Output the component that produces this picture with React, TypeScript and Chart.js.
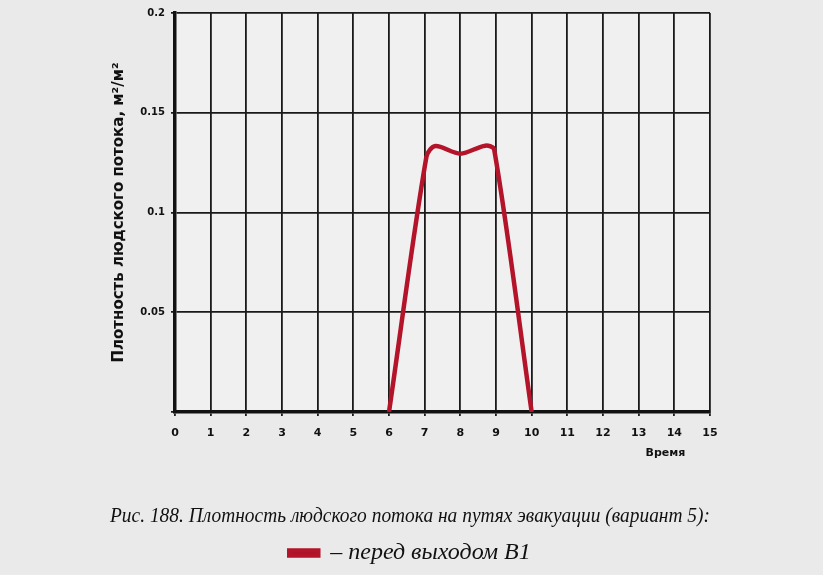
import React, { useEffect, useRef } from "react";
import { Chart, registerables } from "chart.js";

Chart.register(...registerables);

const timeValues = [6, 7.05, 7.3, 8, 8.7, 8.95, 10];
const densityValues = [0, 0.128, 0.1333, 0.1295, 0.1335, 0.1315, 0];
const xTickValues = [0, 1, 2, 3, 4, 5, 6, 7, 8, 9, 10, 11, 12, 13, 14, 15];
const yTickLabels: Record<string, string> = { "0.05": "0.05", "0.1": "0.1", "0.15": "0.15", "0.2": "0.2" };
const seriesLabel = "– перед выходом В1";
const caption = "Рис. 188. Плотность людского потока на путях эвакуации (вариант 5):";
const yTitle = "Плотность людского потока, м²/м²";
const xTitle = "Время";

const bgPlugin = {
  id: "bg",
  beforeDraw(chart: any) {
    const ctx = chart.ctx;
    ctx.save();
    ctx.fillStyle = "#eaeaea";
    ctx.fillRect(0, 0, chart.width, chart.height);
    const a = chart.chartArea;
    ctx.fillStyle = "#f0f0f0";
    ctx.fillRect(a.left, a.top, a.right - a.left, a.bottom - a.top);
    ctx.restore();
  },
};

const xTitlePlugin = {
  id: "xTitleText",
  afterDraw(chart: any) {
    const ctx = chart.ctx;
    const x = chart.scales.x;
    ctx.save();
    ctx.fillStyle = "#111";
    ctx.font = "bold 11px 'DejaVu Sans', sans-serif";
    ctx.textAlign = "center";
    ctx.textBaseline = "middle";
    ctx.fillText(xTitle, x.getPixelForValue(13.75), chart.chartArea.bottom + 41);
    ctx.restore();
  },
};

export default function App() {
  const ref = useRef<HTMLCanvasElement>(null);
  useEffect(() => {
    document.body.style.margin = "0";
    const data = timeValues.map((t, i) => ({ x: t, y: densityValues[i] }));
    const chart = new Chart(ref.current!, {
      type: "line",
      data: {
        datasets: [
          {
            label: seriesLabel,
            data,
            borderColor: "#b3142a",
            backgroundColor: "#9c1226",
            borderWidth: 4.5,
            pointRadius: 0,
            tension: 0.3,
          },
        ],
      },
      options: {
        animation: false,
        responsive: false,
        layout: { padding: { left: 110, right: 113, top: 13, bottom: 0 } },
        plugins: {
          tooltip: { enabled: false },
          title: {
            display: true,
            position: "bottom",
            weight: 500,
            text: caption,
            color: "#111",
            font: { family: "'Liberation Serif', 'Times New Roman', serif", size: 20, style: "italic", weight: "normal" },
            padding: { top: 33, bottom: 4 },
          },
          legend: {
            display: true,
            position: "bottom",
            weight: 1000,
            labels: {
              boxWidth: 29,
              boxHeight: 5,
              color: "#111",
              font: { family: "'Liberation Serif', 'Times New Roman', serif", size: 24, style: "italic" },
              padding: 8,
            },
          },
        } as any,
        scales: {
          x: {
            type: "linear",
            min: 0,
            max: 15,
            afterBuildTicks: (s: any) => {
              s.ticks = xTickValues.map((v) => ({ value: v }));
            },
            ticks: {
              color: "#111",
              font: { family: "'DejaVu Sans', sans-serif", size: 11, weight: "bold" },
              padding: 11,
              maxRotation: 0,
            },
            grid: { color: "#1a1a1a", lineWidth: 1.8, tickLength: 4 },
            border: { color: "#111", width: 3.5 },
            afterFit: (s: any) => {
              s.height = 60;
            },
          },
          y: {
            type: "linear",
            min: 0,
            max: 0.2,
            ticks: {
              stepSize: 0.05,
              color: "#111",
              font: { family: "'DejaVu Sans', sans-serif", size: 10, weight: "bold" },
              padding: 6,
              callback: (v: any) => yTickLabels[String(Number(Number(v).toFixed(2)))] ?? "",
            },
            grid: { color: "#1a1a1a", lineWidth: 1.8, tickLength: 4 },
            border: { color: "#111", width: 3.5 },
            title: {
              display: true,
              text: yTitle,
              color: "#111",
              font: { family: "'DejaVu Sans', sans-serif", size: 15, weight: "bold" },
              padding: { top: 0, bottom: 8 },
            },
            afterFit: (s: any) => {
              s.width = 65;
            },
          },
        },
      },
      plugins: [bgPlugin, xTitlePlugin],
    });
    return () => chart.destroy();
  }, []);
  return <canvas ref={ref} width={823} height={575} style={{ display: "block" }} />;
}
